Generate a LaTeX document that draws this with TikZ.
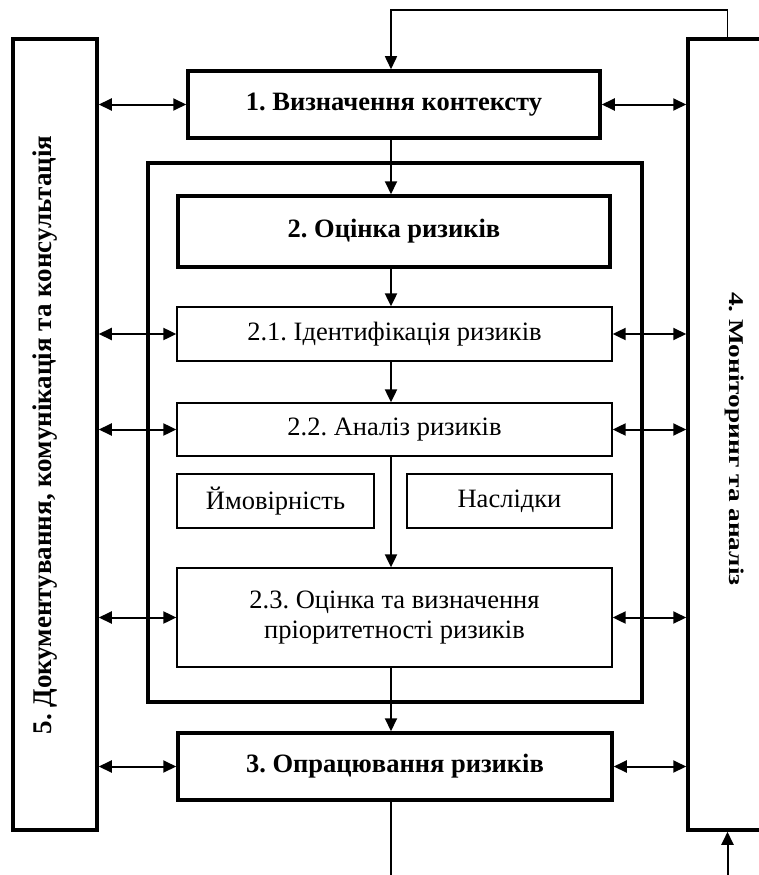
\documentclass[tikz,border=0pt]{standalone}
\usepackage{fontspec}
\setmainfont{Liberation Serif}
\usetikzlibrary{arrows.meta}
\frenchspacing
\begin{document}
\begin{tikzpicture}[x=1pt,y=-1pt,
  thickbox/.style={draw, line width=3.5pt, inner sep=0pt, font=\fontsize{26.5}{30}\selectfont\bfseries},
  thinbox/.style={draw, line width=1.3pt, inner sep=0pt, align=center, font=\fontsize{26.5}{30}\selectfont},
  arr/.style={line width=2pt, -{Triangle[length=13pt,width=12pt]}},
  darr/.style={line width=2pt, {Triangle[length=13pt,width=12pt]}-{Triangle[length=13pt,width=12pt]}},
  fline/.style={line width=1.5pt}]
\useasboundingbox (0,0) rectangle (759,875);
% outer boxes
\node[thickbox, minimum width=84pt, minimum height=791pt] (b5) at (55,434.5) {};
\node[thickbox, minimum width=102pt, minimum height=791pt] (b4) at (739,434.5) {};
\node[font=\fontsize{27}{30}\selectfont\bfseries, rotate=90, inner sep=0pt] (t5) at (45.5,435) {5. Документування, комунікація та консультація};
\node[font=\fontsize{21}{24}\selectfont\bfseries, rotate=-90, inner sep=0pt] (t4) at (735,439) {\scalebox{1.3}[1]{4. Моніторинг та аналіз}};
% container
\node[draw, line width=3.5pt, minimum width=494pt, minimum height=539pt] (cont) at (395,432.5) {};
% main boxes
\node[thickbox, minimum width=412pt, minimum height=67pt] (b1) at (394,104.5) {1. Визначення контексту};
\node[thickbox, minimum width=432pt, minimum height=71pt] (b2) at (394,231.5) {2. Оцінка ризиків};
\node[thinbox, minimum width=435pt, minimum height=54pt] (b21) at (394.5,334) {2.1. Ідентифікація ризиків};
\node[thinbox, minimum width=435pt, minimum height=53pt] (b22) at (394.5,429.5) {2.2. Аналіз ризиків};
\node[thinbox, minimum width=197pt, minimum height=54pt] (p) at (275.5,501) {Ймовірність};
\node[thinbox, minimum width=205pt, minimum height=54pt] (n) at (509.5,501) {Наслідки};
\node[thinbox, minimum width=435pt, minimum height=99pt] (b23) at (394.5,617.5) {2.3. Оцінка та визначення\\пріоритетності ризиків};
\node[thickbox, minimum width=434pt, minimum height=67pt] (b3) at (395,766.5) {3. Опрацювання ризиків};
% helper coordinates
\coordinate (vx) at (391,0);
\coordinate (fb) at (727.5,10);
\coordinate (bot) at (391,875);
\coordinate (botr) at (727.5,875);
% vertical flow
\draw[arr] (b1.south -| vx) -- (b2.north -| vx);
\draw[arr] (b2.south -| vx) -- (b21.north -| vx);
\draw[arr] (b21.south -| vx) -- (b22.north -| vx);
\draw[arr] (b22.south -| vx) -- (b23.north -| vx);
\draw[arr] (b23.south -| vx) -- (b3.north -| vx);
\draw[fline] (b3.south -| vx) -- (bot);
\draw[arr] (botr) -- (b4.south -| botr);
% feedback
\draw[fline, -{Triangle[length=13pt,width=12pt]}] (b4.north -| fb) -- (fb) -| (b1.north -| vx);
% side arrows
\foreach \b in {b1,b21,b22,b23,b3}{
  \draw[darr] (b5.east |- \b.west) -- (\b.west);
  \draw[darr] (\b.east) -- (b4.west |- \b.east);
}
\end{tikzpicture}
\end{document}
